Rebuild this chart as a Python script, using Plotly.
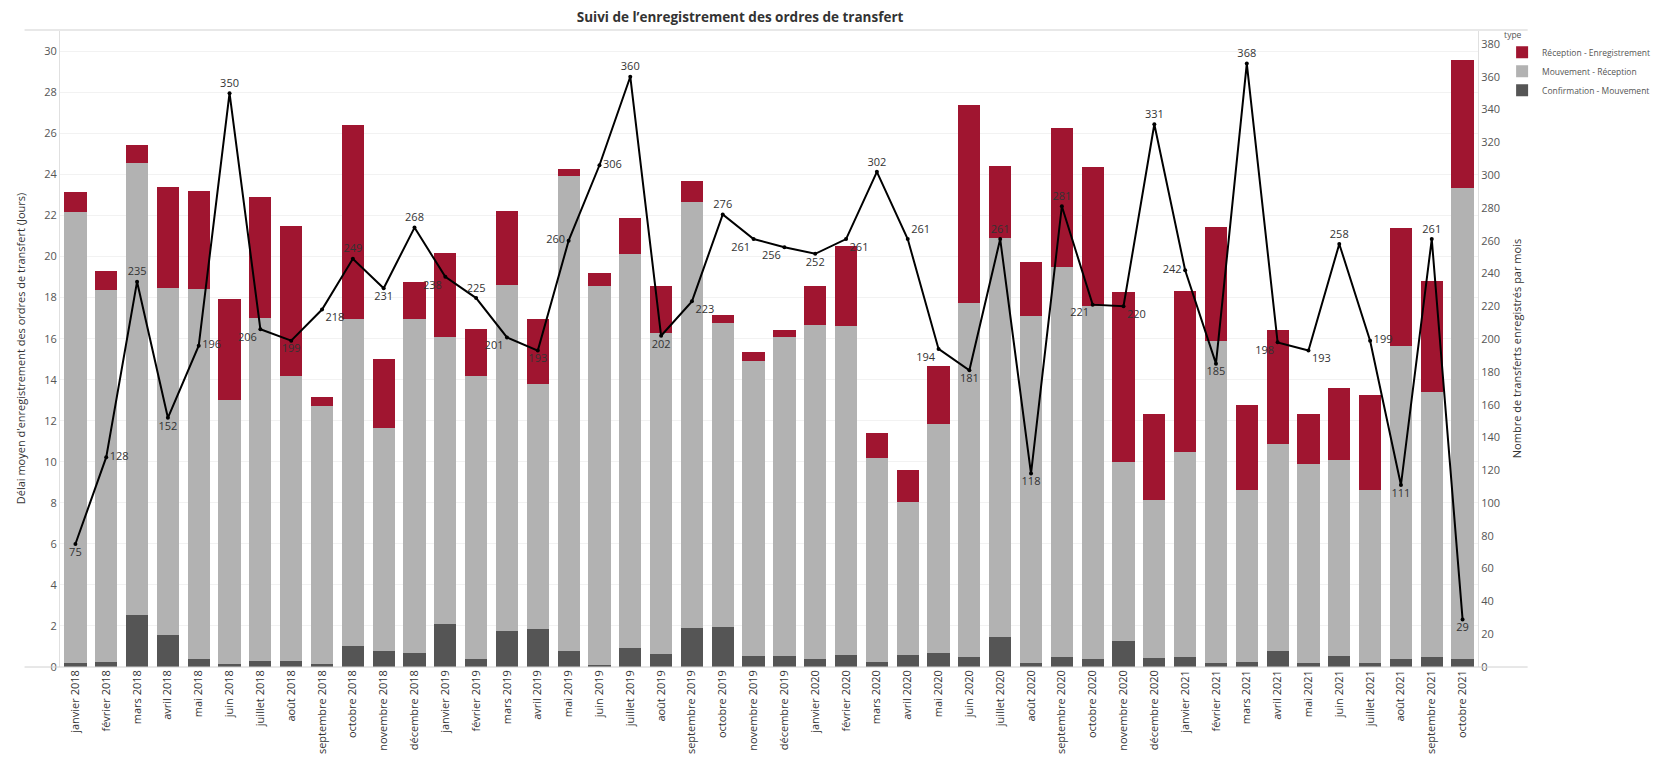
import plotly.graph_objects as go

# ── DATA ────────────────────────────────────────────────────────────────────
MOIS = ["janvier", "février", "mars", "avril", "mai", "juin", "juillet",
        "août", "septembre", "octobre", "novembre", "décembre"]
periodes = [f"{m} {a}" for a in (2018, 2019, 2020) for m in MOIS] + \
           [f"{m} 2021" for m in MOIS[:10]]

# délai moyen (jours) par étape
confirmation_mouvement = [0.19, 0.26, 2.53, 1.54, 0.41, 0.15, 0.31, 0.31, 0.15, 1.02, 0.76, 0.67,
                          2.10, 0.41, 1.77, 1.85, 0.78, 0.08, 0.91, 0.65, 1.90, 1.93, 0.54, 0.54,
                          0.37, 0.58, 0.26, 0.60, 0.67, 0.47, 1.45, 0.21, 0.50, 0.37, 1.28, 0.44,
                          0.47, 0.21, 0.26, 0.78, 0.19, 0.52, 0.19, 0.41, 0.47, 0.41]
mouvement_reception = [22.00, 18.09, 22.03, 16.93, 18.01, 12.88, 16.69, 13.87, 12.59, 15.95, 10.89, 16.30,
                       13.98, 13.76, 16.84, 11.96, 23.16, 18.50, 19.21, 15.62, 20.74, 14.85, 14.37, 15.56,
                       16.28, 16.03, 9.94, 7.42, 11.19, 17.25, 19.45, 16.88, 18.99, 17.20, 8.69, 7.68,
                       9.99, 15.66, 8.38, 10.07, 9.70, 9.55, 8.45, 15.21, 12.95, 22.95]
reception_enregistrement = [0.94, 0.96, 0.88, 4.90, 4.79, 4.92, 5.88, 7.31, 0.43, 9.42, 3.34, 1.79,
                            4.11, 2.31, 3.59, 3.13, 0.34, 0.60, 1.76, 2.31, 1.04, 0.39, 0.46, 0.30,
                            1.93, 3.90, 1.20, 1.56, 2.79, 9.68, 3.51, 2.64, 6.77, 6.81, 8.30, 4.19,
                            7.84, 5.55, 4.13, 5.55, 2.42, 3.53, 4.60, 5.77, 5.40, 6.20]

# nombre de transferts enregistrés par mois
nb_transferts = [75, 128, 235, 152, 196, 350, 206, 199, 218, 249, 231, 268,
                 238, 225, 201, 193, 260, 306, 360, 202, 223, 276, 261, 256,
                 252, 261, 302, 261, 194, 181, 261, 118, 281, 221, 220, 331,
                 242, 185, 368, 198, 193, 258, 199, 111, 261, 29]

# placement des étiquettes (style, comme dans Tableau)
label_pos = ["bottom center", "middle right", "top center", "bottom center", "middle right", "top center",
             "bottom left", "bottom center", "bottom right", "top center", "bottom center", "top center",
             "bottom left", "top center", "bottom left", "bottom center", "middle left", "middle right",
             "top center", "bottom center", "bottom right", "top center", "bottom left", "bottom left",
             "bottom center", "bottom right", "top center", "top right", "bottom left", "bottom center",
             "top center", "bottom center", "top center", "bottom left", "bottom right", "top center",
             "middle left", "bottom center", "top center", "bottom left", "bottom right", "top center",
             "middle right", "bottom center", "top center", "bottom center"]

# ── STYLE ───────────────────────────────────────────────────────────────────
FONT = "Open Sans"
RED = "#A01530"
LIGHT = "#B2B2B2"
DARK = "#555555"

# the page body adds an 8px margin, so the figure is drawn 8px smaller
W, H = 1657, 751

fig = go.Figure()
fig.add_trace(go.Bar(x=periodes, y=confirmation_mouvement, name="Confirmation - Mouvement",
                     marker=dict(color=DARK, line=dict(width=0))))
fig.add_trace(go.Bar(x=periodes, y=mouvement_reception, name="Mouvement - Réception",
                     marker=dict(color=LIGHT, line=dict(width=0))))
fig.add_trace(go.Bar(x=periodes, y=reception_enregistrement, name="Réception - Enregistrement",
                     marker=dict(color=RED, line=dict(width=0))))
fig.add_trace(go.Scatter(
    x=periodes, y=nb_transferts, yaxis="y2", mode="lines+markers+text",
    line=dict(color="#000000", width=2), marker=dict(color="#000000", size=4),
    text=[str(v) for v in nb_transferts], textposition=label_pos,
    textfont=dict(family=FONT, size=11, color="#333333"),
    showlegend=False, cliponaxis=False,
))

fig.update_layout(
    width=W, height=H,
    barmode="stack", bargap=0.28,
    paper_bgcolor="white", plot_bgcolor="white",
    font=dict(family=FONT, size=11, color="#333333"),
    margin=dict(l=52, r=187, t=22, b=92, autoexpand=False),
    title=dict(text="<b>Suivi de l’enregistrement des ordres de transfert</b>",
               x=0.4418, xanchor="center", xref="container",
               y=1 - 9.5 / H, yanchor="middle",
               font=dict(family=FONT, size=13.5, color="#333333")),
    xaxis=dict(type="category", range=[-0.5, len(periodes) - 0.5], tickangle=-90,
               showgrid=False, ticks="", tickfont=dict(size=11, color="#333333"),
               showline=False, zeroline=False),
    yaxis=dict(range=[0, 31.04], dtick=2, showgrid=True, gridcolor="#F2F2F2",
               zeroline=False, showline=True, linecolor="#E0E0E0", ticks="",
               tickfont=dict(size=11, color="#555555"),
               title=dict(text="Délai moyen d'enregistrement des ordres de transfert (Jours)",
                          font=dict(size=11, color="#333333"), standoff=16)),
    yaxis2=dict(range=[0, 388.5], dtick=20, overlaying="y", side="right",
                showgrid=False, zeroline=False, showline=True, linecolor="#E0E0E0", ticks="",
                tickfont=dict(size=11, color="#555555"),
                title=dict(text="Nombre de transferts enregistrés par mois",
                           font=dict(size=11, color="#333333"), standoff=14)),
    legend=dict(title=dict(text="type", font=dict(size=8.5, color="#555555")),
                x=1.017, xanchor="left", y=1.005, yanchor="top",
                font=dict(size=8.5, color="#555555"), itemwidth=30,
                tracegroupgap=0, bgcolor="rgba(0,0,0,0)"),
    shapes=[
        dict(type="line", xref="paper", yref="paper", x0=-0.025, x1=1.035, y0=1, y1=1,
             line=dict(color="#E8E8E8", width=2)),
        dict(type="line", xref="paper", yref="paper", x0=-0.025, x1=1.035, y0=0, y1=0,
             line=dict(color="#D0D0D0", width=1)),
    ],
)

fig.write_html("out.html")
